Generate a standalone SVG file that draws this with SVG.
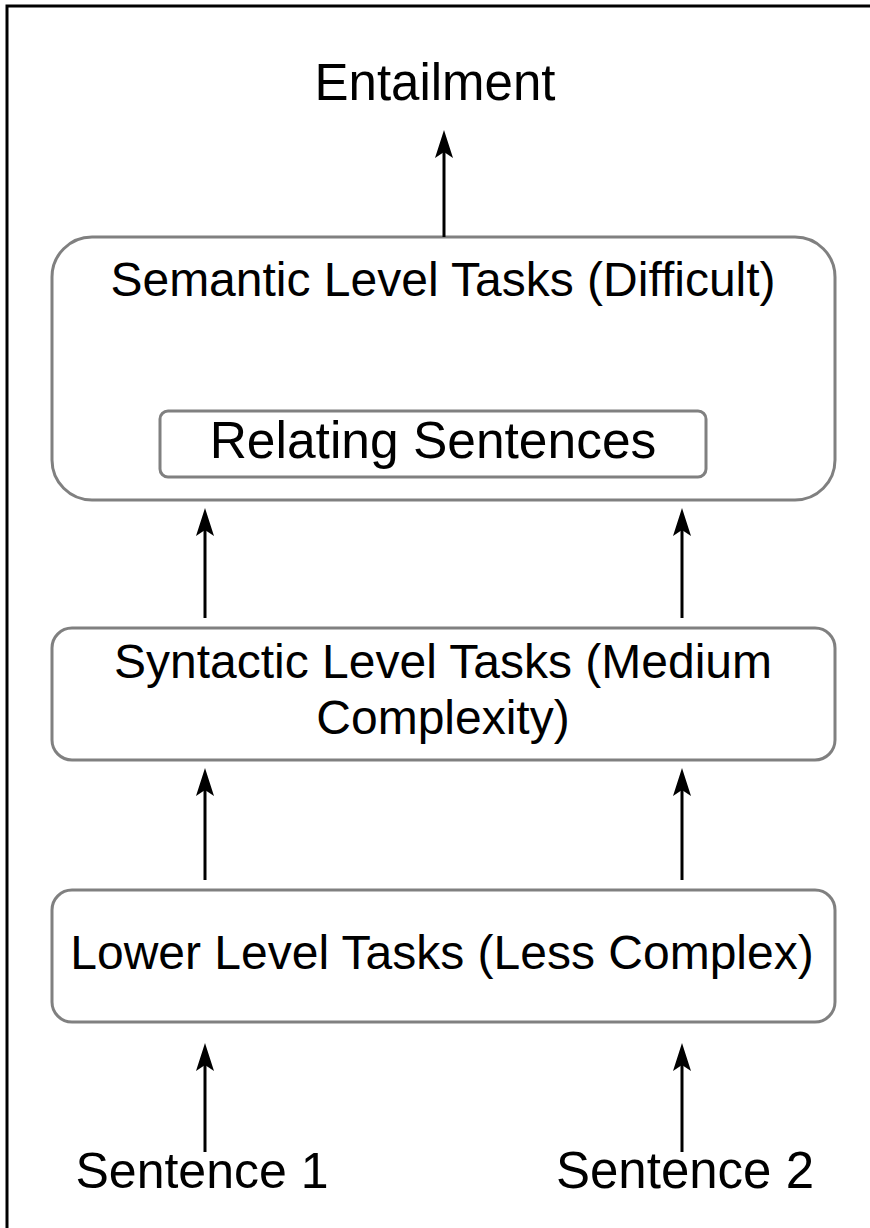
<svg xmlns="http://www.w3.org/2000/svg" width="870" height="1228" viewBox="0 0 870 1228">
<style>
.box{fill:#fff;stroke:#808080;stroke-width:3}
.t{font-family:"Liberation Sans",Arial,sans-serif;fill:#000;text-anchor:middle}
.ln{stroke:#000;stroke-width:3;fill:none}
.hd{fill:#000;stroke:none}
</style>
<defs>
<path id="head" d="M0,0 L9,28 L0,22 L-9,28 Z"/>
</defs>
<rect x="0" y="0" width="870" height="1228" fill="#fff"/>
<path d="M7,1228 V6 H870" fill="none" stroke="#000" stroke-width="3"/>
<g id="entailment"><text class="t" x="435" y="100" font-size="51">Entailment</text></g>
<g id="semantic">
<rect class="box" x="52" y="237" width="783" height="263" rx="40"/>
<text class="t" x="443" y="296" font-size="48">Semantic Level Tasks (Difficult)</text>
</g>
<g id="relating">
<rect class="box" x="160" y="411" width="546" height="66" rx="8"/>
<text class="t" x="433" y="458" font-size="51.5">Relating Sentences</text>
</g>
<g id="syntactic">
<rect class="box" x="52" y="628" width="783" height="132" rx="20"/>
<text class="t" x="443" y="678" font-size="48">Syntactic Level Tasks (Medium</text>
<text class="t" x="443" y="734" font-size="48">Complexity)</text>
</g>
<g id="lower">
<rect class="box" x="52" y="890" width="783" height="132" rx="20"/>
<text class="t" x="442" y="969" font-size="48">Lower Level Tasks (Less Complex)</text>
</g>
<g id="sentence1"><text class="t" x="202" y="1188" font-size="50">Sentence 1</text></g>
<g id="sentence2"><text class="t" x="685" y="1188" font-size="51">Sentence 2</text></g>
<g id="connectors">
<line class="ln" x1="444" y1="237" x2="444" y2="145"/>
<use href="#head" class="hd" x="444" y="130"/>
<line class="ln" x1="205" y1="618" x2="205" y2="523"/>
<use href="#head" class="hd" x="205" y="508"/>
<line class="ln" x1="682" y1="618" x2="682" y2="523"/>
<use href="#head" class="hd" x="682" y="508"/>
<line class="ln" x1="205" y1="880" x2="205" y2="783"/>
<use href="#head" class="hd" x="205" y="768"/>
<line class="ln" x1="682" y1="880" x2="682" y2="783"/>
<use href="#head" class="hd" x="682" y="768"/>
<line class="ln" x1="205" y1="1152" x2="205" y2="1058"/>
<use href="#head" class="hd" x="205" y="1043"/>
<line class="ln" x1="682" y1="1152" x2="682" y2="1058"/>
<use href="#head" class="hd" x="682" y="1043"/>
</g>
</svg>
